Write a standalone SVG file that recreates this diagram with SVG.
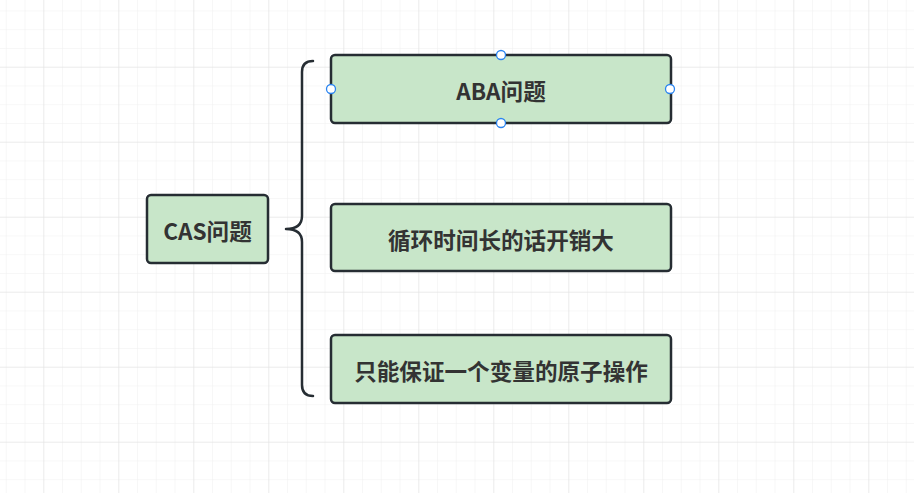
<svg xmlns="http://www.w3.org/2000/svg" width="914" height="493" viewBox="0 0 914 493">
<style>
.node{fill:#c8e6c9;stroke:#262d33;stroke-width:2.5}
.lbl{font-family:"Noto Sans CJK SC","Microsoft YaHei",sans-serif;font-weight:bold;font-size:22.6px;fill:#333333;text-anchor:middle;dominant-baseline:central}
.conn{fill:none;stroke:#262d33;stroke-width:2.5;stroke-linecap:round;stroke-linejoin:round}
.handle{fill:#ffffff;stroke:#2a84f0;stroke-width:1.3}
</style>
<defs>
<pattern id="minor" x="-31.7" y="-8.3" width="18.75" height="18.75" patternUnits="userSpaceOnUse">
<path d="M0,0 H18.75 M0,0 V18.75" fill="none" stroke="#efefef" stroke-width="1"/>
</pattern>
<pattern id="major" x="-31.7" y="-8.3" width="75" height="75" patternUnits="userSpaceOnUse">
<path d="M0,0 H75 M0,0 V75" fill="none" stroke="#e1e1e1" stroke-width="1"/>
</pattern>
</defs>
<rect width="914" height="493" fill="#ffffff"/>
<rect width="914" height="493" fill="url(#minor)"/>
<rect width="914" height="493" fill="url(#major)"/>
<g id="connectors">
<path class="conn" d="M313,61 Q302,61 302,72 L302,216 Q302,229 286,229 Q302,229 302,242 L302,385 Q302,396 313,396"/>
</g>
<g id="node-cas">
<rect class="node" x="147" y="195" width="121" height="68" rx="4"/>
<text class="lbl" x="207.5" y="230">CAS问题</text>
</g>
<g id="node-aba">
<rect class="node" x="331" y="55" width="340" height="68" rx="4"/>
<text class="lbl" x="501" y="90">ABA问题</text>
<circle class="handle" cx="501" cy="55" r="4.5"/>
<circle class="handle" cx="501" cy="123" r="4.5"/>
<circle class="handle" cx="331" cy="89" r="4.5"/>
<circle class="handle" cx="670" cy="89" r="4.5"/>
</g>
<g id="node-loop">
<rect class="node" x="331" y="204" width="340" height="67" rx="4"/>
<text class="lbl" x="501" y="239">循环时间长的话开销大</text>
</g>
<g id="node-atomic">
<rect class="node" x="331" y="335" width="340" height="68" rx="4"/>
<text class="lbl" x="501" y="370">只能保证一个变量的原子操作</text>
</g>
</svg>
